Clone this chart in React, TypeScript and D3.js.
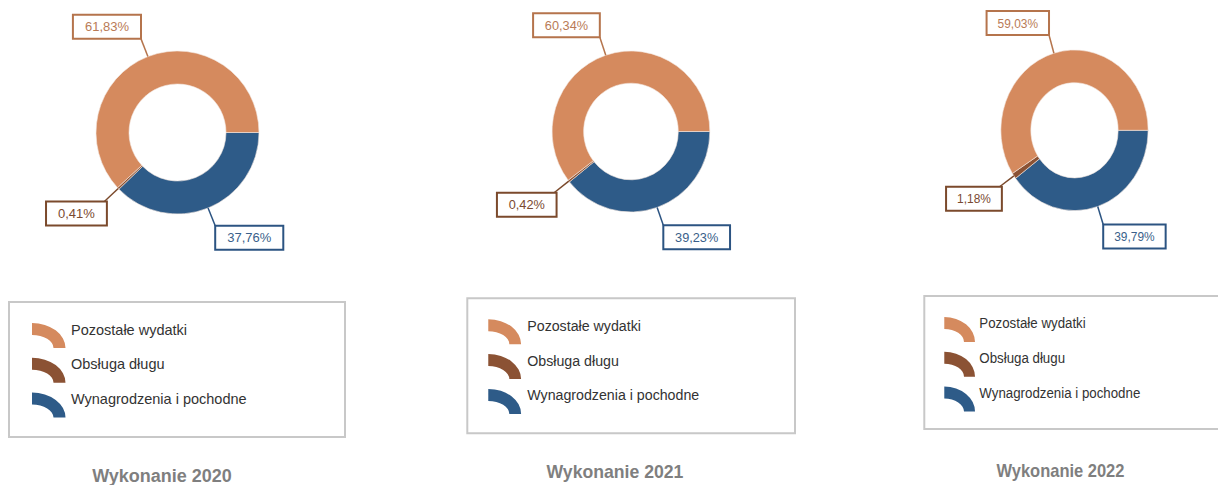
import React from "react";
import * as d3 from "d3";

const categories = ["Pozostałe wydatki", "Obsługa długu", "Wynagrodzenia i pochodne"];
const years = ["2020", "2021", "2022"];
const values2020 = [61.83, 0.41, 37.76];
const values2021 = [60.34, 0.42, 39.23];
const values2022 = [59.03, 1.18, 39.79];
const seriesByYear = [values2020, values2021, values2022];

const fillColors = ["#D58A5E", "#8B5234", "#2E5B88"];
const strokeColors = ["#B5744C", "#7B4A2C", "#2C5482"];
const textColors = ["#B97B56", "#7A4A30", "#3A5F8A"];

// layout (local coordinates of each panel)
const panels = [
  { tx: 9, sx: 1, cx: 168.5, cy: 132.5, R: 81.5, r: 48.5, legY: 302, legH: 135, legW: 336, iconX: 23, textX: 62, titleX: 153, titleY: 481.5, titleSize: 18 },
  { tx: 467.3, sx: 0.98, cx: 167, cy: 131.5, R: 80.5, r: 48.3, legY: 298.3, legH: 135, legW: 334.4, iconX: 21.4, textX: 61.2, titleX: 150.7, titleY: 478, titleSize: 18 },
  { tx: 924.3, sx: 0.917, cx: 163.8, cy: 130.3, R: 80.3, r: 47.6, legY: 296, legH: 133, legW: 336, iconX: 21.8, textX: 60, titleX: 148.5, titleY: 476.7, titleSize: 18 },
];

const FONT = "'Liberation Sans', Arial, sans-serif";
const LABEL_SIZE = 13;

let measureCtx: CanvasRenderingContext2D | null = null;
function textWidth(s: string, size: number) {
  if (!measureCtx) measureCtx = document.createElement("canvas").getContext("2d");
  if (!measureCtx) return s.length * size * 0.55;
  measureCtx.font = `${size}px ${FONT}`;
  return measureCtx.measureText(s).width;
}

const fmt = (v: number) => v.toFixed(2).replace(".", ",") + "%";

function Panel({ idx }: { idx: number }) {
  const p = panels[idx];
  const vals = seriesByYear[idx];
  // clockwise from 3 o'clock: Wynagrodzenia, Obsługa, Pozostałe
  const order = [2, 1, 0];
  const pie = d3
    .pie<number>()
    .sort(null)
    .value((i) => vals[i])
    .startAngle(Math.PI / 2)
    .endAngle(Math.PI / 2 + 2 * Math.PI);
  const arcs = pie(order);
  const arcGen = d3.arc<d3.PieArcDatum<number>>().innerRadius(p.r).outerRadius(p.R);

  const ext = 19;
  const boxH = 24;

  const legendIcon = (x: number, yTop: number) => {
    const Rx = 33.5, Ry = 25, t = 12;
    const cx = x, cy = yTop + Ry;
    const rx = Rx - t, ry = Ry - t;
    return `M${cx},${cy - Ry} A${Rx},${Ry} 0 0 1 ${cx + Rx},${cy} L${cx + rx},${cy} A${rx},${ry} 0 0 0 ${cx},${cy - ry} Z`;
  };

  return (
    <g transform={`translate(${p.tx},0) scale(${p.sx},1)`}>
      <g transform={`translate(${p.cx},${p.cy})`}>
        {arcs.map((a) => (
          <path
            key={a.data}
            d={arcGen(a) || ""}
            fill={fillColors[a.data]}
            stroke="#f4e8e0"
            strokeWidth={0.6}
            vectorEffect="non-scaling-stroke"
          />
        ))}
        {arcs.map((a) => {
          const i = a.data;
          const mid = (a.startAngle + a.endAngle) / 2;
          const sx0 = p.R * Math.sin(mid);
          const sy0 = -p.R * Math.cos(mid);
          const ex = (p.R + ext) * Math.sin(mid);
          const ey = -(p.R + ext) * Math.cos(mid);
          const label = fmt(vals[i]);
          const w = textWidth(label, LABEL_SIZE) + 24;
          let bx: number, by: number;
          if (i === 0) {
            bx = ex - w;
            by = ey - boxH;
          } else if (i === 1) {
            bx = ex - w + 2.5;
            by = ey;
          } else {
            bx = ex;
            by = ey;
          }
          return (
            <g key={"l" + i}>
              <line
                x1={sx0}
                y1={sy0}
                x2={ex}
                y2={ey}
                stroke={strokeColors[i]}
                strokeWidth={1.5}
                vectorEffect="non-scaling-stroke"
              />
              <rect
                x={bx}
                y={by}
                width={w}
                height={boxH}
                fill="#fff"
                stroke={strokeColors[i]}
                strokeWidth={2}
                vectorEffect="non-scaling-stroke"
              />
              <text
                x={bx + w / 2}
                y={by + boxH / 2 + 4.6}
                textAnchor="middle"
                fontFamily={FONT}
                fontSize={LABEL_SIZE}
                fill={textColors[i]}
              >
                {label}
              </text>
            </g>
          );
        })}
      </g>
      <rect
        x={0}
        y={p.legY}
        width={p.legW}
        height={p.legH}
        fill="#fff"
        stroke="#C8C8C8"
        strokeWidth={2}
        vectorEffect="non-scaling-stroke"
      />
      {categories.map((c, i) => {
        const base = p.legY + 32.5 + 34.8 * i;
        return (
          <g key={c}>
            <path d={legendIcon(p.iconX, base - 11.5)} fill={fillColors[i]} />
            <text x={p.textX} y={base} fontFamily={FONT} fontSize={14.5} fill="#333333">
              {c}
            </text>
          </g>
        );
      })}
      <text
        x={p.titleX}
        y={p.titleY}
        textAnchor="middle"
        fontFamily={FONT}
        fontSize={p.titleSize}
        fontWeight="bold"
        fill="#7F7F7F"
      >
        {"Wykonanie " + years[idx]}
      </text>
    </g>
  );
}

export default function App() {
  return (
    <svg
      width={1218}
      height={485}
      style={{ position: "absolute", left: 0, top: 0, background: "#fff" }}
    >
      <rect x={0} y={0} width={1218} height={485} fill="#fff" />
      {panels.map((_, i) => (
        <Panel key={i} idx={i} />
      ))}
    </svg>
  );
}
